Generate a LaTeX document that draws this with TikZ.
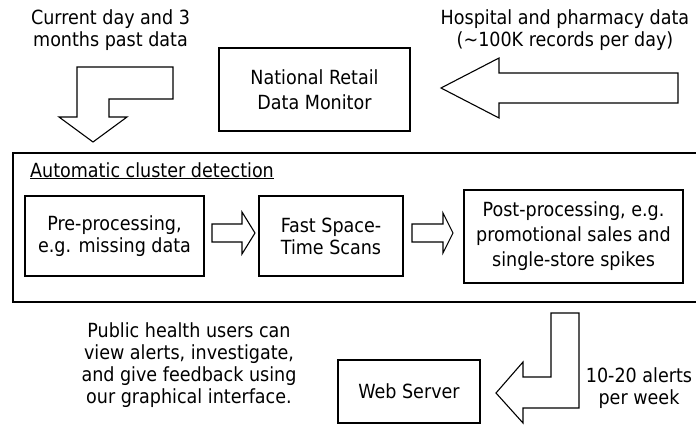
\documentclass[tikz,border=0pt]{standalone}
\usepackage{fontspec}
\setmainfont{DejaVu Sans Condensed}
\usepackage{tikz}

\begin{document}
\begin{tikzpicture}
[every node/.style={inner sep=0pt, align=center, font=\fontsize{19.5}{22}\selectfont},
 box/.style={draw, rectangle, line width=1.2pt},
 fat/.style={draw, line width=1.1pt, line join=miter}]
\useasboundingbox (0pt, 0pt) rectangle (696pt, -425pt);
\clip (0pt, 0pt) rectangle (696pt, -425pt);
\node (1) [box, minimum width=191pt, minimum height=83pt, font=\fontsize{19.5}{25}\selectfont] at (314.5pt, -89.5pt) {National Retail\\Data Monitor};
\draw [line width=1.2pt] (13pt, -153pt) rectangle (705pt, -302pt);
\node (2) [anchor=base west] at (30pt, -177pt) {\underline{Automatic cluster detection}};
\node (3) [box, minimum width=179pt, minimum height=80pt] at (114.5pt, -236pt) {Pre-processing,\\e.g. missing data};
\node (4) [box, minimum width=144pt, minimum height=80pt] at (331pt, -236pt) {Fast Space-\\Time Scans};
\node (5) [box, minimum width=219pt, minimum height=93pt, font=\fontsize{19.5}{25}\selectfont] at (573.5pt, -236.5pt) {Post-processing, e.g.\\promotional sales and\\single-store spikes};
\node (6) [box, minimum width=142pt, minimum height=63pt] at (409pt, -391.5pt) {Web Server};
\draw [fat] (173pt, -67pt) -- (77pt, -67pt) -- (77pt, -117pt) -- (59pt, -117pt) -- (93pt, -142pt) -- (127pt, -117pt) -- (109pt, -117pt) -- (109pt, -99pt) -- (173pt, -99pt) -- cycle;
\draw [fat] (678pt, -73pt) -- (499pt, -73pt) -- (499pt, -58pt) -- (441pt, -88pt) -- (499pt, -118pt) -- (499pt, -103pt) -- (678pt, -103pt) -- cycle;
\draw [fat] (212pt, -224pt) -- (242pt, -224pt) -- (242pt, -212pt) -- (255pt, -233pt) -- (242pt, -254pt) -- (242pt, -242pt) -- (212pt, -242pt) -- cycle;
\draw [fat] (412pt, -224pt) -- (443pt, -224pt) -- (443pt, -213pt) -- (453pt, -233pt) -- (443pt, -253pt) -- (443pt, -242pt) -- (412pt, -242pt) -- cycle;
\draw [fat] (551pt, -313pt) -- (579pt, -313pt) -- (579pt, -408pt) -- (523pt, -408pt) -- (523pt, -423pt) -- (496pt, -393pt) -- (523pt, -362pt) -- (523pt, -377pt) -- (551pt, -377pt) -- cycle;
\node (7) at (110.5pt, -30pt) {Current day and 3\\months past data};
\node (8) at (565pt, -30pt) {Hospital and pharmacy data\\(\textasciitilde100K records per day)};
\node (9) at (189pt, -365pt) {Public health users can\\view alerts, investigate,\\and give feedback using\\our graphical interface.};
\node (10) at (639pt, -388pt) {10-20 alerts\\per week};
\end{tikzpicture}
\end{document}
